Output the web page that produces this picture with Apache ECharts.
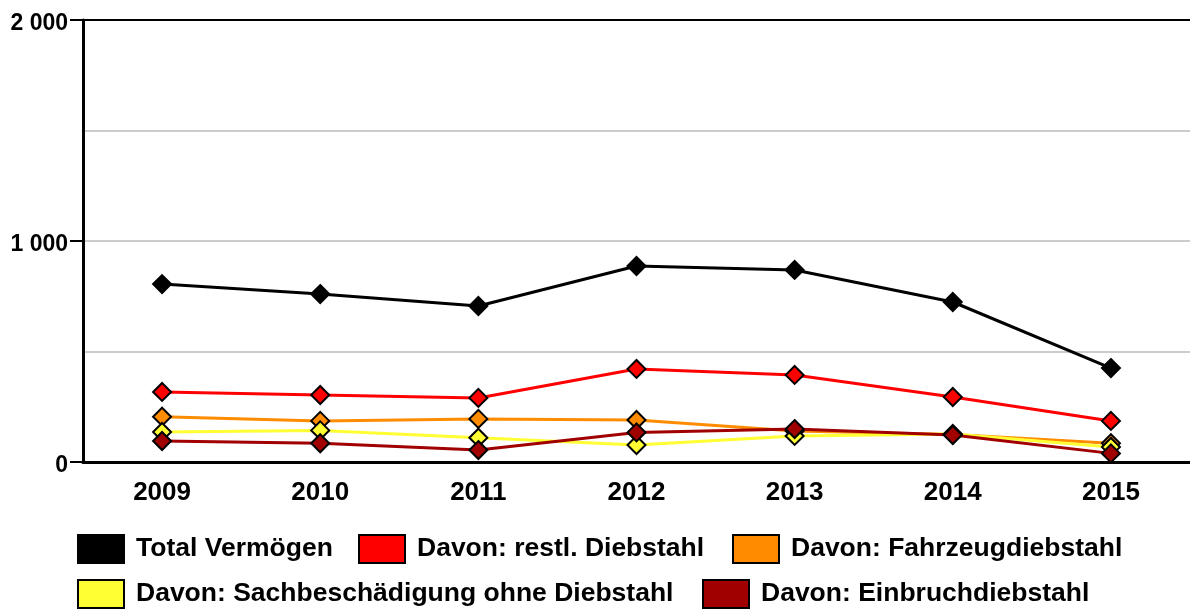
<!DOCTYPE html>
<html><head><meta charset="utf-8">
<script src="https://cdn.jsdelivr.net/npm/echarts@6/dist/echarts.min.js"></script>
<style>html,body{margin:0;padding:0;background:#fff}#c{width:1190px;height:611px}</style>
</head><body><div id="c"></div>
<script>
const years = ['2009','2010','2011','2012','2013','2014','2015'];
const seriesNames = ['Total Vermögen','Davon: restl. Diebstahl','Davon: Fahrzeugdiebstahl','Davon: Sachbeschädigung ohne Diebstahl','Davon: Einbruchdiebstahl'];
const totalVermoegen = [805, 760, 706, 887, 869, 724, 425];
const restlDiebstahl = [317, 303, 290, 421, 394, 294, 186];
const fahrzeugDiebstahl = [205, 186, 195, 190, 140, 125, 85];
const sachbeschaedigung = [136, 143, 110, 77, 118, 127, 68];
const einbruchDiebstahl = [95, 85, 54, 134, 149, 122, 39];
const colors = ['#000000','#ff0000','#ff8c00','#ffff33','#a00000'];
const dataSets = [totalVermoegen, restlDiebstahl, fahrzeugDiebstahl, sachbeschaedigung, einbruchDiebstahl];

const font = {fontFamily:'Liberation Sans', fontWeight:'bold', color:'#000'};
const legendPos = [
  {left:77, top:534}, {left:358, top:534}, {left:732, top:534},
  {left:77, top:579}, {left:702, top:579}
];
const chart = echarts.init(document.getElementById('c'));
chart.setOption({
  animation:false,
  backgroundColor:'#fff',
  grid:{left:83, top:20, width:1124, height:442, containLabel:false},
  legend: seriesNames.map((n,i)=>({
    data:[n], left:legendPos[i].left, top:legendPos[i].top, padding:0,
    icon:'rect', itemWidth:46, itemHeight:28, itemGap:10,
    textStyle:Object.assign({}, font, {fontSize:26.5, padding:[2,0,0,7]}),
    itemStyle:{borderColor:'#000', borderWidth:2},
    selectedMode:false
  })),
  xAxis:{type:'category', data:years, boundaryGap:true,
    axisLine:{lineStyle:{color:'#000', width:3}},
    axisTick:{show:false},
    axisLabel:Object.assign({}, font, {fontSize:26, margin:18})
  },
  yAxis:{type:'value', min:0, max:2000, interval:1000,
    axisLine:{show:true, lineStyle:{color:'#000', width:3}},
    axisTick:{show:true, length:13, lineStyle:{color:'#000', width:2}},
    axisLabel:Object.assign({}, font, {fontSize:23, margin:15,
      formatter:v=> '{a|' + (v===0 ? '0' : String(v).replace(/\B(?=(\d{3})+(?!\d))/g,' ')) + '}',
      rich:{a:{fontFamily:'Liberation Sans', fontWeight:'bold', fontSize:23, color:'#000', padding:[7,0,0,0]}}}),
    splitLine:{show:true, lineStyle:{color:['#cccccc','#cccccc','#000000'], width:2}},
    minorTick:{show:false, splitNumber:2},
    minorSplitLine:{show:true, lineStyle:{color:'#cccccc', width:2}}
  },
  series: seriesNames.map((n,i)=>({
    name:n, type:'line', data:dataSets[i],
    symbol:'diamond', symbolSize:18,
    itemStyle:{color:colors[i], borderColor:'#000', borderWidth:2},
    lineStyle:{color:colors[i], width:3},
    z: i===0?5:(i===1?4:3)
  }))
});
</script></body></html>
